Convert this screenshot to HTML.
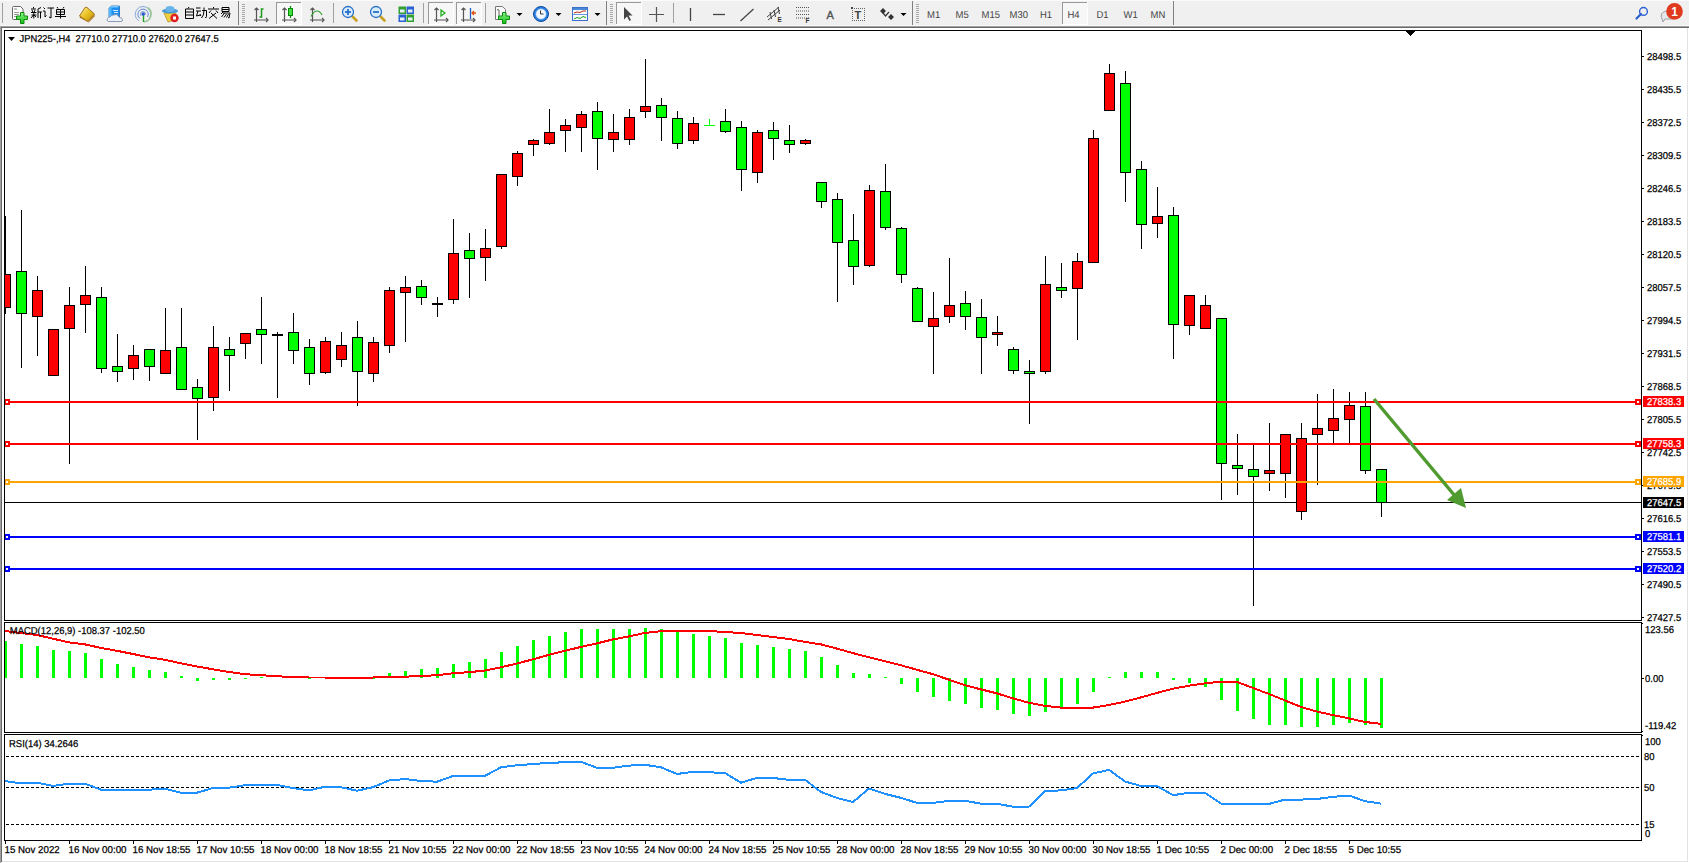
<!DOCTYPE html>
<html><head><meta charset="utf-8"><style>
html,body{margin:0;padding:0;background:#fff;width:1689px;height:863px;overflow:hidden}
svg{display:block}
</style></head><body>
<svg width="1689" height="863" viewBox="0 0 1689 863" shape-rendering="crispEdges">
<rect x="0" y="0" width="1689" height="863" fill="#ffffff"/>
<rect x="0" y="0" width="1689" height="26" fill="#f0f0f0"/>
<rect x="0" y="26" width="1689" height="1" fill="#a0a0a0"/>
<rect x="0" y="27" width="1689" height="1" fill="#696969"/>
<rect x="0" y="26" width="1" height="837" fill="#a0a0a0"/>
<rect x="1" y="27" width="1" height="835" fill="#696969"/>
<rect x="1687" y="28" width="1" height="834" fill="#e3e3e3"/>
<rect x="2" y="861" width="1686" height="1" fill="#e3e3e3"/>
<defs><clipPath id="cm"><rect x="5" y="31" width="1636" height="589"/></clipPath><clipPath id="cd"><rect x="5" y="623" width="1636" height="109"/></clipPath><clipPath id="cr"><rect x="5" y="735" width="1636" height="105"/></clipPath></defs>
<g clip-path="url(#cm)">
<rect x="5" y="502" width="1636" height="1" fill="#000"/>
<rect x="5" y="216" width="1" height="98" fill="#000"/>
<rect x="0" y="274" width="11" height="34" fill="#000"/>
<rect x="1" y="275" width="9" height="32" fill="#ff0000"/>
<rect x="21" y="210" width="1" height="158" fill="#000"/>
<rect x="16" y="271" width="11" height="43" fill="#000"/>
<rect x="17" y="272" width="9" height="41" fill="#00ff00"/>
<rect x="37" y="276" width="1" height="80" fill="#000"/>
<rect x="32" y="290" width="11" height="27" fill="#000"/>
<rect x="33" y="291" width="9" height="25" fill="#ff0000"/>
<rect x="53" y="329" width="1" height="47" fill="#000"/>
<rect x="48" y="329" width="11" height="47" fill="#000"/>
<rect x="49" y="330" width="9" height="45" fill="#ff0000"/>
<rect x="69" y="287" width="1" height="177" fill="#000"/>
<rect x="64" y="305" width="11" height="24" fill="#000"/>
<rect x="65" y="306" width="9" height="22" fill="#ff0000"/>
<rect x="85" y="266" width="1" height="67" fill="#000"/>
<rect x="80" y="295" width="11" height="10" fill="#000"/>
<rect x="81" y="296" width="9" height="8" fill="#ff0000"/>
<rect x="101" y="287" width="1" height="86" fill="#000"/>
<rect x="96" y="297" width="11" height="72" fill="#000"/>
<rect x="97" y="298" width="9" height="70" fill="#00ff00"/>
<rect x="117" y="334" width="1" height="48" fill="#000"/>
<rect x="112" y="366" width="11" height="6" fill="#000"/>
<rect x="113" y="367" width="9" height="4" fill="#00ff00"/>
<rect x="133" y="345" width="1" height="35" fill="#000"/>
<rect x="128" y="355" width="11" height="14" fill="#000"/>
<rect x="129" y="356" width="9" height="12" fill="#ff0000"/>
<rect x="149" y="349" width="1" height="32" fill="#000"/>
<rect x="144" y="349" width="11" height="18" fill="#000"/>
<rect x="145" y="350" width="9" height="16" fill="#00ff00"/>
<rect x="165" y="308" width="1" height="66" fill="#000"/>
<rect x="160" y="350" width="11" height="24" fill="#000"/>
<rect x="161" y="351" width="9" height="22" fill="#ff0000"/>
<rect x="181" y="308" width="1" height="82" fill="#000"/>
<rect x="176" y="347" width="11" height="43" fill="#000"/>
<rect x="177" y="348" width="9" height="41" fill="#00ff00"/>
<rect x="197" y="379" width="1" height="61" fill="#000"/>
<rect x="192" y="387" width="11" height="12" fill="#000"/>
<rect x="193" y="388" width="9" height="10" fill="#00ff00"/>
<rect x="213" y="326" width="1" height="85" fill="#000"/>
<rect x="208" y="347" width="11" height="51" fill="#000"/>
<rect x="209" y="348" width="9" height="49" fill="#ff0000"/>
<rect x="229" y="337" width="1" height="54" fill="#000"/>
<rect x="224" y="349" width="11" height="7" fill="#000"/>
<rect x="225" y="350" width="9" height="5" fill="#00ff00"/>
<rect x="245" y="333" width="1" height="26" fill="#000"/>
<rect x="240" y="333" width="11" height="11" fill="#000"/>
<rect x="241" y="334" width="9" height="9" fill="#ff0000"/>
<rect x="261" y="297" width="1" height="67" fill="#000"/>
<rect x="256" y="329" width="11" height="6" fill="#000"/>
<rect x="257" y="330" width="9" height="4" fill="#00ff00"/>
<rect x="277" y="332" width="1" height="66" fill="#000"/>
<rect x="272" y="334" width="11" height="2" fill="#000"/>
<rect x="293" y="313" width="1" height="51" fill="#000"/>
<rect x="288" y="332" width="11" height="19" fill="#000"/>
<rect x="289" y="333" width="9" height="17" fill="#00ff00"/>
<rect x="309" y="339" width="1" height="46" fill="#000"/>
<rect x="304" y="347" width="11" height="27" fill="#000"/>
<rect x="305" y="348" width="9" height="25" fill="#00ff00"/>
<rect x="325" y="337" width="1" height="37" fill="#000"/>
<rect x="320" y="341" width="11" height="32" fill="#000"/>
<rect x="321" y="342" width="9" height="30" fill="#ff0000"/>
<rect x="341" y="332" width="1" height="35" fill="#000"/>
<rect x="336" y="345" width="11" height="15" fill="#000"/>
<rect x="337" y="346" width="9" height="13" fill="#ff0000"/>
<rect x="357" y="321" width="1" height="85" fill="#000"/>
<rect x="352" y="337" width="11" height="35" fill="#000"/>
<rect x="353" y="338" width="9" height="33" fill="#00ff00"/>
<rect x="373" y="337" width="1" height="45" fill="#000"/>
<rect x="368" y="342" width="11" height="32" fill="#000"/>
<rect x="369" y="343" width="9" height="30" fill="#ff0000"/>
<rect x="389" y="287" width="1" height="66" fill="#000"/>
<rect x="384" y="290" width="11" height="56" fill="#000"/>
<rect x="385" y="291" width="9" height="54" fill="#ff0000"/>
<rect x="405" y="276" width="1" height="66" fill="#000"/>
<rect x="400" y="287" width="11" height="6" fill="#000"/>
<rect x="401" y="288" width="9" height="4" fill="#ff0000"/>
<rect x="421" y="280" width="1" height="25" fill="#000"/>
<rect x="416" y="286" width="11" height="12" fill="#000"/>
<rect x="417" y="287" width="9" height="10" fill="#00ff00"/>
<rect x="437" y="297" width="1" height="20" fill="#000"/>
<rect x="432" y="303" width="11" height="2" fill="#000"/>
<rect x="453" y="219" width="1" height="85" fill="#000"/>
<rect x="448" y="253" width="11" height="47" fill="#000"/>
<rect x="449" y="254" width="9" height="45" fill="#ff0000"/>
<rect x="469" y="233" width="1" height="65" fill="#000"/>
<rect x="464" y="250" width="11" height="9" fill="#000"/>
<rect x="465" y="251" width="9" height="7" fill="#00ff00"/>
<rect x="485" y="229" width="1" height="52" fill="#000"/>
<rect x="480" y="248" width="11" height="10" fill="#000"/>
<rect x="481" y="249" width="9" height="8" fill="#ff0000"/>
<rect x="501" y="174" width="1" height="75" fill="#000"/>
<rect x="496" y="174" width="11" height="73" fill="#000"/>
<rect x="497" y="175" width="9" height="71" fill="#ff0000"/>
<rect x="517" y="151" width="1" height="35" fill="#000"/>
<rect x="512" y="153" width="11" height="24" fill="#000"/>
<rect x="513" y="154" width="9" height="22" fill="#ff0000"/>
<rect x="533" y="139" width="1" height="17" fill="#000"/>
<rect x="528" y="140" width="11" height="5" fill="#000"/>
<rect x="529" y="141" width="9" height="3" fill="#ff0000"/>
<rect x="549" y="109" width="1" height="36" fill="#000"/>
<rect x="544" y="132" width="11" height="12" fill="#000"/>
<rect x="545" y="133" width="9" height="10" fill="#ff0000"/>
<rect x="565" y="119" width="1" height="33" fill="#000"/>
<rect x="560" y="125" width="11" height="6" fill="#000"/>
<rect x="561" y="126" width="9" height="4" fill="#ff0000"/>
<rect x="581" y="111" width="1" height="41" fill="#000"/>
<rect x="576" y="114" width="11" height="14" fill="#000"/>
<rect x="577" y="115" width="9" height="12" fill="#ff0000"/>
<rect x="597" y="102" width="1" height="68" fill="#000"/>
<rect x="592" y="111" width="11" height="28" fill="#000"/>
<rect x="593" y="112" width="9" height="26" fill="#00ff00"/>
<rect x="613" y="114" width="1" height="38" fill="#000"/>
<rect x="608" y="132" width="11" height="8" fill="#000"/>
<rect x="609" y="133" width="9" height="6" fill="#ff0000"/>
<rect x="629" y="109" width="1" height="36" fill="#000"/>
<rect x="624" y="117" width="11" height="23" fill="#000"/>
<rect x="625" y="118" width="9" height="21" fill="#ff0000"/>
<rect x="645" y="59" width="1" height="59" fill="#000"/>
<rect x="640" y="106" width="11" height="6" fill="#000"/>
<rect x="641" y="107" width="9" height="4" fill="#ff0000"/>
<rect x="661" y="98" width="1" height="43" fill="#000"/>
<rect x="656" y="105" width="11" height="13" fill="#000"/>
<rect x="657" y="106" width="9" height="11" fill="#00ff00"/>
<rect x="677" y="111" width="1" height="38" fill="#000"/>
<rect x="672" y="118" width="11" height="26" fill="#000"/>
<rect x="673" y="119" width="9" height="24" fill="#00ff00"/>
<rect x="693" y="117" width="1" height="27" fill="#000"/>
<rect x="688" y="123" width="11" height="18" fill="#000"/>
<rect x="689" y="124" width="9" height="16" fill="#ff0000"/>
<rect x="709" y="119" width="1" height="7" fill="#000"/>
<rect x="704" y="125" width="11" height="1" fill="#00ff00"/>
<rect x="709" y="119" width="1" height="7" fill="#00ff00"/>
<rect x="725" y="109" width="1" height="24" fill="#000"/>
<rect x="720" y="121" width="11" height="11" fill="#000"/>
<rect x="721" y="122" width="9" height="9" fill="#00ff00"/>
<rect x="741" y="121" width="1" height="70" fill="#000"/>
<rect x="736" y="127" width="11" height="43" fill="#000"/>
<rect x="737" y="128" width="9" height="41" fill="#00ff00"/>
<rect x="757" y="130" width="1" height="53" fill="#000"/>
<rect x="752" y="132" width="11" height="41" fill="#000"/>
<rect x="753" y="133" width="9" height="39" fill="#ff0000"/>
<rect x="773" y="122" width="1" height="38" fill="#000"/>
<rect x="768" y="130" width="11" height="9" fill="#000"/>
<rect x="769" y="131" width="9" height="7" fill="#00ff00"/>
<rect x="789" y="125" width="1" height="28" fill="#000"/>
<rect x="784" y="140" width="11" height="5" fill="#000"/>
<rect x="785" y="141" width="9" height="3" fill="#00ff00"/>
<rect x="805" y="139" width="1" height="6" fill="#000"/>
<rect x="800" y="140" width="11" height="4" fill="#000"/>
<rect x="801" y="141" width="9" height="2" fill="#ff0000"/>
<rect x="821" y="182" width="1" height="26" fill="#000"/>
<rect x="816" y="182" width="11" height="20" fill="#000"/>
<rect x="817" y="183" width="9" height="18" fill="#00ff00"/>
<rect x="837" y="193" width="1" height="109" fill="#000"/>
<rect x="832" y="199" width="11" height="44" fill="#000"/>
<rect x="833" y="200" width="9" height="42" fill="#00ff00"/>
<rect x="853" y="214" width="1" height="71" fill="#000"/>
<rect x="848" y="240" width="11" height="27" fill="#000"/>
<rect x="849" y="241" width="9" height="25" fill="#00ff00"/>
<rect x="869" y="185" width="1" height="82" fill="#000"/>
<rect x="864" y="190" width="11" height="76" fill="#000"/>
<rect x="865" y="191" width="9" height="74" fill="#ff0000"/>
<rect x="885" y="164" width="1" height="66" fill="#000"/>
<rect x="880" y="191" width="11" height="37" fill="#000"/>
<rect x="881" y="192" width="9" height="35" fill="#00ff00"/>
<rect x="901" y="227" width="1" height="56" fill="#000"/>
<rect x="896" y="228" width="11" height="47" fill="#000"/>
<rect x="897" y="229" width="9" height="45" fill="#00ff00"/>
<rect x="917" y="287" width="1" height="35" fill="#000"/>
<rect x="912" y="288" width="11" height="34" fill="#000"/>
<rect x="913" y="289" width="9" height="32" fill="#00ff00"/>
<rect x="933" y="292" width="1" height="82" fill="#000"/>
<rect x="928" y="318" width="11" height="9" fill="#000"/>
<rect x="929" y="319" width="9" height="7" fill="#ff0000"/>
<rect x="949" y="258" width="1" height="65" fill="#000"/>
<rect x="944" y="305" width="11" height="12" fill="#000"/>
<rect x="945" y="306" width="9" height="10" fill="#ff0000"/>
<rect x="965" y="291" width="1" height="39" fill="#000"/>
<rect x="960" y="303" width="11" height="14" fill="#000"/>
<rect x="961" y="304" width="9" height="12" fill="#00ff00"/>
<rect x="981" y="299" width="1" height="75" fill="#000"/>
<rect x="976" y="317" width="11" height="21" fill="#000"/>
<rect x="977" y="318" width="9" height="19" fill="#00ff00"/>
<rect x="997" y="316" width="1" height="30" fill="#000"/>
<rect x="992" y="332" width="11" height="3" fill="#000"/>
<rect x="993" y="333" width="9" height="1" fill="#ff0000"/>
<rect x="1013" y="347" width="1" height="27" fill="#000"/>
<rect x="1008" y="349" width="11" height="22" fill="#000"/>
<rect x="1009" y="350" width="9" height="20" fill="#00ff00"/>
<rect x="1029" y="360" width="1" height="64" fill="#000"/>
<rect x="1024" y="371" width="11" height="3" fill="#000"/>
<rect x="1025" y="372" width="9" height="1" fill="#00ff00"/>
<rect x="1045" y="256" width="1" height="118" fill="#000"/>
<rect x="1040" y="284" width="11" height="88" fill="#000"/>
<rect x="1041" y="285" width="9" height="86" fill="#ff0000"/>
<rect x="1061" y="263" width="1" height="35" fill="#000"/>
<rect x="1056" y="287" width="11" height="4" fill="#000"/>
<rect x="1057" y="288" width="9" height="2" fill="#00ff00"/>
<rect x="1077" y="253" width="1" height="87" fill="#000"/>
<rect x="1072" y="261" width="11" height="28" fill="#000"/>
<rect x="1073" y="262" width="9" height="26" fill="#ff0000"/>
<rect x="1093" y="130" width="1" height="133" fill="#000"/>
<rect x="1088" y="138" width="11" height="125" fill="#000"/>
<rect x="1089" y="139" width="9" height="123" fill="#ff0000"/>
<rect x="1109" y="64" width="1" height="47" fill="#000"/>
<rect x="1104" y="73" width="11" height="38" fill="#000"/>
<rect x="1105" y="74" width="9" height="36" fill="#ff0000"/>
<rect x="1125" y="71" width="1" height="131" fill="#000"/>
<rect x="1120" y="83" width="11" height="90" fill="#000"/>
<rect x="1121" y="84" width="9" height="88" fill="#00ff00"/>
<rect x="1141" y="161" width="1" height="88" fill="#000"/>
<rect x="1136" y="169" width="11" height="56" fill="#000"/>
<rect x="1137" y="170" width="9" height="54" fill="#00ff00"/>
<rect x="1157" y="187" width="1" height="51" fill="#000"/>
<rect x="1152" y="216" width="11" height="8" fill="#000"/>
<rect x="1153" y="217" width="9" height="6" fill="#ff0000"/>
<rect x="1173" y="207" width="1" height="152" fill="#000"/>
<rect x="1168" y="215" width="11" height="110" fill="#000"/>
<rect x="1169" y="216" width="9" height="108" fill="#00ff00"/>
<rect x="1189" y="295" width="1" height="40" fill="#000"/>
<rect x="1184" y="295" width="11" height="31" fill="#000"/>
<rect x="1185" y="296" width="9" height="29" fill="#ff0000"/>
<rect x="1205" y="295" width="1" height="34" fill="#000"/>
<rect x="1200" y="305" width="11" height="24" fill="#000"/>
<rect x="1201" y="306" width="9" height="22" fill="#ff0000"/>
<rect x="1221" y="318" width="1" height="182" fill="#000"/>
<rect x="1216" y="318" width="11" height="146" fill="#000"/>
<rect x="1217" y="319" width="9" height="144" fill="#00ff00"/>
<rect x="1237" y="434" width="1" height="61" fill="#000"/>
<rect x="1232" y="465" width="11" height="4" fill="#000"/>
<rect x="1233" y="466" width="9" height="2" fill="#00ff00"/>
<rect x="1253" y="445" width="1" height="161" fill="#000"/>
<rect x="1248" y="469" width="11" height="8" fill="#000"/>
<rect x="1249" y="470" width="9" height="6" fill="#00ff00"/>
<rect x="1269" y="423" width="1" height="68" fill="#000"/>
<rect x="1264" y="470" width="11" height="4" fill="#000"/>
<rect x="1265" y="471" width="9" height="2" fill="#ff0000"/>
<rect x="1285" y="434" width="1" height="64" fill="#000"/>
<rect x="1280" y="434" width="11" height="40" fill="#000"/>
<rect x="1281" y="435" width="9" height="38" fill="#ff0000"/>
<rect x="1301" y="423" width="1" height="97" fill="#000"/>
<rect x="1296" y="438" width="11" height="74" fill="#000"/>
<rect x="1297" y="439" width="9" height="72" fill="#ff0000"/>
<rect x="1317" y="394" width="1" height="91" fill="#000"/>
<rect x="1312" y="428" width="11" height="7" fill="#000"/>
<rect x="1313" y="429" width="9" height="5" fill="#ff0000"/>
<rect x="1333" y="389" width="1" height="55" fill="#000"/>
<rect x="1328" y="418" width="11" height="13" fill="#000"/>
<rect x="1329" y="419" width="9" height="11" fill="#ff0000"/>
<rect x="1349" y="392" width="1" height="52" fill="#000"/>
<rect x="1344" y="405" width="11" height="15" fill="#000"/>
<rect x="1345" y="406" width="9" height="13" fill="#ff0000"/>
<rect x="1365" y="392" width="1" height="82" fill="#000"/>
<rect x="1360" y="406" width="11" height="65" fill="#000"/>
<rect x="1361" y="407" width="9" height="63" fill="#00ff00"/>
<rect x="1381" y="469" width="1" height="48" fill="#000"/>
<rect x="1376" y="469" width="11" height="34" fill="#000"/>
<rect x="1377" y="470" width="9" height="32" fill="#00ff00"/>
<rect x="5" y="401" width="1636" height="2" fill="#ff0000"/>
<rect x="4" y="399" width="6" height="6" fill="#ff0000"/>
<rect x="6" y="401" width="2" height="2" fill="#fff"/>
<rect x="1635" y="399" width="6" height="6" fill="#ff0000"/>
<rect x="1637" y="401" width="2" height="2" fill="#fff"/>
<rect x="5" y="443" width="1636" height="2" fill="#ff0000"/>
<rect x="4" y="441" width="6" height="6" fill="#ff0000"/>
<rect x="6" y="443" width="2" height="2" fill="#fff"/>
<rect x="1635" y="441" width="6" height="6" fill="#ff0000"/>
<rect x="1637" y="443" width="2" height="2" fill="#fff"/>
<rect x="5" y="481" width="1636" height="2" fill="#ffa500"/>
<rect x="4" y="479" width="6" height="6" fill="#ffa500"/>
<rect x="6" y="481" width="2" height="2" fill="#fff"/>
<rect x="1635" y="479" width="6" height="6" fill="#ffa500"/>
<rect x="1637" y="481" width="2" height="2" fill="#fff"/>
<rect x="5" y="536" width="1636" height="2" fill="#0000ff"/>
<rect x="4" y="534" width="6" height="6" fill="#0000ff"/>
<rect x="6" y="536" width="2" height="2" fill="#fff"/>
<rect x="1635" y="534" width="6" height="6" fill="#0000ff"/>
<rect x="1637" y="536" width="2" height="2" fill="#fff"/>
<rect x="5" y="568" width="1636" height="2" fill="#0000ff"/>
<rect x="4" y="566" width="6" height="6" fill="#0000ff"/>
<rect x="6" y="568" width="2" height="2" fill="#fff"/>
<rect x="1635" y="566" width="6" height="6" fill="#0000ff"/>
<rect x="1637" y="568" width="2" height="2" fill="#fff"/>
<g shape-rendering="geometricPrecision"><line x1="1374" y1="399" x2="1455" y2="496" stroke="#4f9b2f" stroke-width="3.5"/><polygon points="1466,508 1447,500 1461,488" fill="#4f9b2f"/></g>
</g>
<g fill="#000"><rect x="1406" y="31" width="9" height="1"/><rect x="1407" y="32" width="7" height="1"/><rect x="1408" y="33" width="5" height="1"/><rect x="1409" y="34" width="3" height="1"/><rect x="1410" y="35" width="1" height="1"/></g>
<g clip-path="url(#cd)">
<rect x="4" y="641" width="3" height="37" fill="#00ff00"/>
<rect x="20" y="644" width="3" height="34" fill="#00ff00"/>
<rect x="36" y="646" width="3" height="32" fill="#00ff00"/>
<rect x="52" y="650" width="3" height="28" fill="#00ff00"/>
<rect x="68" y="651" width="3" height="27" fill="#00ff00"/>
<rect x="84" y="653" width="3" height="25" fill="#00ff00"/>
<rect x="100" y="659" width="3" height="19" fill="#00ff00"/>
<rect x="116" y="664" width="3" height="14" fill="#00ff00"/>
<rect x="132" y="667" width="3" height="11" fill="#00ff00"/>
<rect x="148" y="670" width="3" height="8" fill="#00ff00"/>
<rect x="164" y="672" width="3" height="6" fill="#00ff00"/>
<rect x="180" y="676" width="3" height="2" fill="#00ff00"/>
<rect x="196" y="678" width="3" height="3" fill="#00ff00"/>
<rect x="212" y="678" width="3" height="2" fill="#00ff00"/>
<rect x="228" y="678" width="3" height="2" fill="#00ff00"/>
<rect x="244" y="678" width="3" height="1" fill="#00ff00"/>
<rect x="260" y="677" width="3" height="1" fill="#00ff00"/>
<rect x="308" y="678" width="3" height="1" fill="#00ff00"/>
<rect x="356" y="678" width="3" height="1" fill="#00ff00"/>
<rect x="372" y="678" width="3" height="1" fill="#00ff00"/>
<rect x="388" y="673" width="3" height="5" fill="#00ff00"/>
<rect x="404" y="671" width="3" height="7" fill="#00ff00"/>
<rect x="420" y="669" width="3" height="9" fill="#00ff00"/>
<rect x="436" y="668" width="3" height="10" fill="#00ff00"/>
<rect x="452" y="664" width="3" height="14" fill="#00ff00"/>
<rect x="468" y="662" width="3" height="16" fill="#00ff00"/>
<rect x="484" y="659" width="3" height="19" fill="#00ff00"/>
<rect x="500" y="652" width="3" height="26" fill="#00ff00"/>
<rect x="516" y="646" width="3" height="32" fill="#00ff00"/>
<rect x="532" y="640" width="3" height="38" fill="#00ff00"/>
<rect x="548" y="636" width="3" height="42" fill="#00ff00"/>
<rect x="564" y="632" width="3" height="46" fill="#00ff00"/>
<rect x="580" y="629" width="3" height="49" fill="#00ff00"/>
<rect x="596" y="629" width="3" height="49" fill="#00ff00"/>
<rect x="612" y="629" width="3" height="49" fill="#00ff00"/>
<rect x="628" y="629" width="3" height="49" fill="#00ff00"/>
<rect x="644" y="628" width="3" height="50" fill="#00ff00"/>
<rect x="660" y="629" width="3" height="49" fill="#00ff00"/>
<rect x="676" y="631" width="3" height="47" fill="#00ff00"/>
<rect x="692" y="634" width="3" height="44" fill="#00ff00"/>
<rect x="708" y="636" width="3" height="42" fill="#00ff00"/>
<rect x="724" y="638" width="3" height="40" fill="#00ff00"/>
<rect x="740" y="643" width="3" height="35" fill="#00ff00"/>
<rect x="756" y="645" width="3" height="33" fill="#00ff00"/>
<rect x="772" y="647" width="3" height="31" fill="#00ff00"/>
<rect x="788" y="649" width="3" height="29" fill="#00ff00"/>
<rect x="804" y="651" width="3" height="27" fill="#00ff00"/>
<rect x="820" y="657" width="3" height="21" fill="#00ff00"/>
<rect x="836" y="665" width="3" height="13" fill="#00ff00"/>
<rect x="852" y="673" width="3" height="5" fill="#00ff00"/>
<rect x="868" y="674" width="3" height="4" fill="#00ff00"/>
<rect x="884" y="677" width="3" height="1" fill="#00ff00"/>
<rect x="900" y="678" width="3" height="6" fill="#00ff00"/>
<rect x="916" y="678" width="3" height="14" fill="#00ff00"/>
<rect x="932" y="678" width="3" height="19" fill="#00ff00"/>
<rect x="948" y="678" width="3" height="23" fill="#00ff00"/>
<rect x="964" y="678" width="3" height="26" fill="#00ff00"/>
<rect x="980" y="678" width="3" height="30" fill="#00ff00"/>
<rect x="996" y="678" width="3" height="32" fill="#00ff00"/>
<rect x="1012" y="678" width="3" height="36" fill="#00ff00"/>
<rect x="1028" y="678" width="3" height="38" fill="#00ff00"/>
<rect x="1044" y="678" width="3" height="34" fill="#00ff00"/>
<rect x="1060" y="678" width="3" height="30" fill="#00ff00"/>
<rect x="1076" y="678" width="3" height="26" fill="#00ff00"/>
<rect x="1092" y="678" width="3" height="14" fill="#00ff00"/>
<rect x="1108" y="677" width="3" height="1" fill="#00ff00"/>
<rect x="1124" y="672" width="3" height="6" fill="#00ff00"/>
<rect x="1140" y="672" width="3" height="6" fill="#00ff00"/>
<rect x="1156" y="672" width="3" height="6" fill="#00ff00"/>
<rect x="1172" y="678" width="3" height="2" fill="#00ff00"/>
<rect x="1188" y="678" width="3" height="5" fill="#00ff00"/>
<rect x="1204" y="678" width="3" height="9" fill="#00ff00"/>
<rect x="1220" y="678" width="3" height="22" fill="#00ff00"/>
<rect x="1236" y="678" width="3" height="33" fill="#00ff00"/>
<rect x="1252" y="678" width="3" height="41" fill="#00ff00"/>
<rect x="1268" y="678" width="3" height="47" fill="#00ff00"/>
<rect x="1284" y="678" width="3" height="47" fill="#00ff00"/>
<rect x="1300" y="678" width="3" height="49" fill="#00ff00"/>
<rect x="1316" y="678" width="3" height="49" fill="#00ff00"/>
<rect x="1332" y="678" width="3" height="47" fill="#00ff00"/>
<rect x="1348" y="678" width="3" height="45" fill="#00ff00"/>
<rect x="1364" y="678" width="3" height="47" fill="#00ff00"/>
<rect x="1380" y="678" width="3" height="50" fill="#00ff00"/>
<polyline points="5,631 21,633 37,635 53,638.7 69,642.4 85,644.4 101,647.9 117,650.8 133,654 149,657.3 165,659.8 181,663.3 197,666.5 213,669.3 229,672 245,674.2 261,675.2 277,676.2 293,677.2 309,677.5 325,677.5 341,677.5 357,677.5 373,677.5 389,677 405,676.7 421,676 437,675.2 453,673.2 469,672.2 485,670.5 501,667.3 517,663.5 533,659.3 549,654.8 565,650.8 581,646.9 597,643.4 613,639.4 629,636.4 645,632.9 661,631.2 677,631 693,631 709,631 725,632 741,633 757,635 773,637 789,639 805,641.9 821,644.4 837,648.6 853,653.1 869,657.3 885,661.3 901,665.3 917,669.8 933,674.2 949,679.7 965,685.2 981,689.4 997,693.4 1013,698.4 1029,702.8 1045,705.8 1061,707.6 1077,707.6 1093,707.6 1109,705 1125,701.6 1141,697.4 1157,692.9 1173,688.7 1189,685.7 1205,683.4 1221,681.7 1237,682 1253,688 1269,694 1285,700.4 1301,707 1317,711.6 1333,715.1 1349,718.4 1365,722 1381,723.8" fill="none" stroke="#ff0000" stroke-width="2" shape-rendering="crispEdges"/>
</g>
<g clip-path="url(#cr)">
<line x1="6" y1="756.5" x2="1641" y2="756.5" stroke="#000" stroke-width="1" stroke-dasharray="3,2"/>
<line x1="6" y1="787.5" x2="1641" y2="787.5" stroke="#000" stroke-width="1" stroke-dasharray="3,2"/>
<line x1="6" y1="824.5" x2="1641" y2="824.5" stroke="#000" stroke-width="1" stroke-dasharray="3,2"/>
<polyline points="5,781 21,783.5 37,782.7 53,786 69,783.7 85,783.7 101,789.7 117,789.7 133,789.7 149,789.7 165,788.7 181,792.7 197,792.7 213,788 229,787.7 245,785.2 261,784.7 277,785 293,788 309,790.4 325,786.7 341,787.2 357,790.7 373,787.2 389,780.5 405,779 421,781 437,781.7 453,776 469,775.8 485,775.8 501,767.3 517,765.3 533,764 549,762.8 565,762.3 581,761.8 597,767.8 613,767.8 629,765.6 645,764.8 661,767.3 677,774 693,771.8 709,772.3 725,773 741,782.7 757,777.8 773,778 789,779.8 805,779.8 821,792 837,797.9 853,802.1 869,788.5 885,793.9 901,797.9 917,802.9 933,802.9 949,800.9 965,800.9 981,803.6 997,803.9 1013,806.6 1029,806.6 1045,791 1061,790.4 1077,788 1093,773.5 1109,769.8 1125,781.5 1141,786 1157,786 1173,795.2 1189,792.7 1205,792.7 1221,803.6 1237,804 1253,804.2 1269,803.9 1285,799.6 1301,799.6 1317,799 1333,796.8 1349,795.5 1365,801.2 1381,803.6" fill="none" stroke="#1e90ff" stroke-width="2" shape-rendering="crispEdges"/>
</g>
<rect x="4.5" y="30.5" width="1637" height="590" fill="none" stroke="#000" stroke-width="1"/>
<rect x="4.5" y="622.5" width="1637" height="110" fill="none" stroke="#000" stroke-width="1"/>
<rect x="4.5" y="734.5" width="1637" height="106" fill="none" stroke="#000" stroke-width="1"/>
<polygon points="8,37 15,37 11.5,41" fill="#000" shape-rendering="geometricPrecision"/>
<text transform="translate(19.5,42) scale(0.935,1)" x="0" y="0" font-family="Liberation Sans, sans-serif" text-rendering="geometricPrecision" font-size="10" fill="#000" stroke="#000" stroke-width="0.25" text-anchor="start" xml:space="preserve" >JPN225-,H4  27710.0 27710.0 27620.0 27647.5</text>
<text transform="translate(9.8,634) scale(0.945,1)" x="0" y="0" font-family="Liberation Sans, sans-serif" text-rendering="geometricPrecision" font-size="10" fill="#000" stroke="#000" stroke-width="0.25" text-anchor="start" xml:space="preserve" >MACD(12,26,9) -108.37 -102.50</text>
<text transform="translate(9,746.5) scale(0.945,1)" x="0" y="0" font-family="Liberation Sans, sans-serif" text-rendering="geometricPrecision" font-size="10" fill="#000" stroke="#000" stroke-width="0.25" text-anchor="start" xml:space="preserve" >RSI(14) 34.2646</text>
<rect x="1642" y="56" width="2" height="1" fill="#000"/>
<text transform="translate(1647,60) scale(0.945,1)" x="0" y="0" font-family="Liberation Sans, sans-serif" text-rendering="geometricPrecision" font-size="10" fill="#000" stroke="#000" stroke-width="0.25" text-anchor="start" xml:space="preserve" >28498.5</text>
<rect x="1642" y="89" width="2" height="1" fill="#000"/>
<text transform="translate(1647,93) scale(0.945,1)" x="0" y="0" font-family="Liberation Sans, sans-serif" text-rendering="geometricPrecision" font-size="10" fill="#000" stroke="#000" stroke-width="0.25" text-anchor="start" xml:space="preserve" >28435.5</text>
<rect x="1642" y="122" width="2" height="1" fill="#000"/>
<text transform="translate(1647,126) scale(0.945,1)" x="0" y="0" font-family="Liberation Sans, sans-serif" text-rendering="geometricPrecision" font-size="10" fill="#000" stroke="#000" stroke-width="0.25" text-anchor="start" xml:space="preserve" >28372.5</text>
<rect x="1642" y="155" width="2" height="1" fill="#000"/>
<text transform="translate(1647,159) scale(0.945,1)" x="0" y="0" font-family="Liberation Sans, sans-serif" text-rendering="geometricPrecision" font-size="10" fill="#000" stroke="#000" stroke-width="0.25" text-anchor="start" xml:space="preserve" >28309.5</text>
<rect x="1642" y="188" width="2" height="1" fill="#000"/>
<text transform="translate(1647,192) scale(0.945,1)" x="0" y="0" font-family="Liberation Sans, sans-serif" text-rendering="geometricPrecision" font-size="10" fill="#000" stroke="#000" stroke-width="0.25" text-anchor="start" xml:space="preserve" >28246.5</text>
<rect x="1642" y="221" width="2" height="1" fill="#000"/>
<text transform="translate(1647,225) scale(0.945,1)" x="0" y="0" font-family="Liberation Sans, sans-serif" text-rendering="geometricPrecision" font-size="10" fill="#000" stroke="#000" stroke-width="0.25" text-anchor="start" xml:space="preserve" >28183.5</text>
<rect x="1642" y="254" width="2" height="1" fill="#000"/>
<text transform="translate(1647,258) scale(0.945,1)" x="0" y="0" font-family="Liberation Sans, sans-serif" text-rendering="geometricPrecision" font-size="10" fill="#000" stroke="#000" stroke-width="0.25" text-anchor="start" xml:space="preserve" >28120.5</text>
<rect x="1642" y="287" width="2" height="1" fill="#000"/>
<text transform="translate(1647,291) scale(0.945,1)" x="0" y="0" font-family="Liberation Sans, sans-serif" text-rendering="geometricPrecision" font-size="10" fill="#000" stroke="#000" stroke-width="0.25" text-anchor="start" xml:space="preserve" >28057.5</text>
<rect x="1642" y="320" width="2" height="1" fill="#000"/>
<text transform="translate(1647,324) scale(0.945,1)" x="0" y="0" font-family="Liberation Sans, sans-serif" text-rendering="geometricPrecision" font-size="10" fill="#000" stroke="#000" stroke-width="0.25" text-anchor="start" xml:space="preserve" >27994.5</text>
<rect x="1642" y="353" width="2" height="1" fill="#000"/>
<text transform="translate(1647,357) scale(0.945,1)" x="0" y="0" font-family="Liberation Sans, sans-serif" text-rendering="geometricPrecision" font-size="10" fill="#000" stroke="#000" stroke-width="0.25" text-anchor="start" xml:space="preserve" >27931.5</text>
<rect x="1642" y="386" width="2" height="1" fill="#000"/>
<text transform="translate(1647,390) scale(0.945,1)" x="0" y="0" font-family="Liberation Sans, sans-serif" text-rendering="geometricPrecision" font-size="10" fill="#000" stroke="#000" stroke-width="0.25" text-anchor="start" xml:space="preserve" >27868.5</text>
<rect x="1642" y="419" width="2" height="1" fill="#000"/>
<text transform="translate(1647,423) scale(0.945,1)" x="0" y="0" font-family="Liberation Sans, sans-serif" text-rendering="geometricPrecision" font-size="10" fill="#000" stroke="#000" stroke-width="0.25" text-anchor="start" xml:space="preserve" >27805.5</text>
<rect x="1642" y="452" width="2" height="1" fill="#000"/>
<text transform="translate(1647,456) scale(0.945,1)" x="0" y="0" font-family="Liberation Sans, sans-serif" text-rendering="geometricPrecision" font-size="10" fill="#000" stroke="#000" stroke-width="0.25" text-anchor="start" xml:space="preserve" >27742.5</text>
<rect x="1642" y="485" width="2" height="1" fill="#000"/>
<text transform="translate(1647,489) scale(0.945,1)" x="0" y="0" font-family="Liberation Sans, sans-serif" text-rendering="geometricPrecision" font-size="10" fill="#000" stroke="#000" stroke-width="0.25" text-anchor="start" xml:space="preserve" >27679.5</text>
<rect x="1642" y="518" width="2" height="1" fill="#000"/>
<text transform="translate(1647,522) scale(0.945,1)" x="0" y="0" font-family="Liberation Sans, sans-serif" text-rendering="geometricPrecision" font-size="10" fill="#000" stroke="#000" stroke-width="0.25" text-anchor="start" xml:space="preserve" >27616.5</text>
<rect x="1642" y="551" width="2" height="1" fill="#000"/>
<text transform="translate(1647,555) scale(0.945,1)" x="0" y="0" font-family="Liberation Sans, sans-serif" text-rendering="geometricPrecision" font-size="10" fill="#000" stroke="#000" stroke-width="0.25" text-anchor="start" xml:space="preserve" >27553.5</text>
<rect x="1642" y="584" width="2" height="1" fill="#000"/>
<text transform="translate(1647,588) scale(0.945,1)" x="0" y="0" font-family="Liberation Sans, sans-serif" text-rendering="geometricPrecision" font-size="10" fill="#000" stroke="#000" stroke-width="0.25" text-anchor="start" xml:space="preserve" >27490.5</text>
<rect x="1642" y="617" width="2" height="1" fill="#000"/>
<text transform="translate(1647,621) scale(0.945,1)" x="0" y="0" font-family="Liberation Sans, sans-serif" text-rendering="geometricPrecision" font-size="10" fill="#000" stroke="#000" stroke-width="0.25" text-anchor="start" xml:space="preserve" >27427.5</text>
<rect x="1643" y="396" width="41" height="11" fill="#ff0000"/>
<text transform="translate(1647,405) scale(0.945,1)" x="0" y="0" font-family="Liberation Sans, sans-serif" text-rendering="geometricPrecision" font-size="10" fill="#fff" stroke="#fff" stroke-width="0.25" text-anchor="start" xml:space="preserve" >27838.3</text>
<rect x="1643" y="438" width="41" height="11" fill="#ff0000"/>
<text transform="translate(1647,447) scale(0.945,1)" x="0" y="0" font-family="Liberation Sans, sans-serif" text-rendering="geometricPrecision" font-size="10" fill="#fff" stroke="#fff" stroke-width="0.25" text-anchor="start" xml:space="preserve" >27758.3</text>
<rect x="1643" y="476" width="41" height="11" fill="#ffa500"/>
<text transform="translate(1647,485) scale(0.945,1)" x="0" y="0" font-family="Liberation Sans, sans-serif" text-rendering="geometricPrecision" font-size="10" fill="#fff" stroke="#fff" stroke-width="0.25" text-anchor="start" xml:space="preserve" >27685.9</text>
<rect x="1643" y="497" width="41" height="11" fill="#000000"/>
<text transform="translate(1647,506) scale(0.945,1)" x="0" y="0" font-family="Liberation Sans, sans-serif" text-rendering="geometricPrecision" font-size="10" fill="#fff" stroke="#fff" stroke-width="0.25" text-anchor="start" xml:space="preserve" >27647.5</text>
<rect x="1643" y="531" width="41" height="11" fill="#0000ff"/>
<text transform="translate(1647,540) scale(0.945,1)" x="0" y="0" font-family="Liberation Sans, sans-serif" text-rendering="geometricPrecision" font-size="10" fill="#fff" stroke="#fff" stroke-width="0.25" text-anchor="start" xml:space="preserve" >27581.1</text>
<rect x="1643" y="563" width="41" height="11" fill="#0000ff"/>
<text transform="translate(1647,572) scale(0.945,1)" x="0" y="0" font-family="Liberation Sans, sans-serif" text-rendering="geometricPrecision" font-size="10" fill="#fff" stroke="#fff" stroke-width="0.25" text-anchor="start" xml:space="preserve" >27520.2</text>
<text transform="translate(1645,633) scale(0.945,1)" x="0" y="0" font-family="Liberation Sans, sans-serif" text-rendering="geometricPrecision" font-size="10" fill="#000" stroke="#000" stroke-width="0.25" text-anchor="start" xml:space="preserve" >123.56</text>
<rect x="1642" y="678" width="2" height="1" fill="#000"/>
<text transform="translate(1645,682) scale(0.945,1)" x="0" y="0" font-family="Liberation Sans, sans-serif" text-rendering="geometricPrecision" font-size="10" fill="#000" stroke="#000" stroke-width="0.25" text-anchor="start" xml:space="preserve" >0.00</text>
<text transform="translate(1645,729) scale(0.945,1)" x="0" y="0" font-family="Liberation Sans, sans-serif" text-rendering="geometricPrecision" font-size="10" fill="#000" stroke="#000" stroke-width="0.25" text-anchor="start" xml:space="preserve" >-119.42</text>
<rect x="1642" y="623" width="1" height="1" fill="#000"/>
<rect x="1642" y="731" width="1" height="1" fill="#000"/>
<rect x="1642" y="735" width="1" height="1" fill="#000"/>
<text transform="translate(1645,745) scale(0.945,1)" x="0" y="0" font-family="Liberation Sans, sans-serif" text-rendering="geometricPrecision" font-size="10" fill="#000" stroke="#000" stroke-width="0.25" text-anchor="start" xml:space="preserve" >100</text>
<text transform="translate(1644,760) scale(0.945,1)" x="0" y="0" font-family="Liberation Sans, sans-serif" text-rendering="geometricPrecision" font-size="10" fill="#000" stroke="#000" stroke-width="0.25" text-anchor="start" xml:space="preserve" >80</text>
<text transform="translate(1644,791) scale(0.945,1)" x="0" y="0" font-family="Liberation Sans, sans-serif" text-rendering="geometricPrecision" font-size="10" fill="#000" stroke="#000" stroke-width="0.25" text-anchor="start" xml:space="preserve" >50</text>
<text transform="translate(1644,828) scale(0.945,1)" x="0" y="0" font-family="Liberation Sans, sans-serif" text-rendering="geometricPrecision" font-size="10" fill="#000" stroke="#000" stroke-width="0.25" text-anchor="start" xml:space="preserve" >15</text>
<text transform="translate(1645,837) scale(0.945,1)" x="0" y="0" font-family="Liberation Sans, sans-serif" text-rendering="geometricPrecision" font-size="10" fill="#000" stroke="#000" stroke-width="0.25" text-anchor="start" xml:space="preserve" >0</text>
<rect x="5" y="841" width="1" height="3" fill="#000"/>
<text transform="translate(4.5,853) scale(0.975,1)" x="0" y="0" font-family="Liberation Sans, sans-serif" text-rendering="geometricPrecision" font-size="10" fill="#000" stroke="#000" stroke-width="0.25" text-anchor="start" xml:space="preserve" >15 Nov 2022</text>
<rect x="69" y="841" width="1" height="3" fill="#000"/>
<text transform="translate(68.5,853) scale(0.975,1)" x="0" y="0" font-family="Liberation Sans, sans-serif" text-rendering="geometricPrecision" font-size="10" fill="#000" stroke="#000" stroke-width="0.25" text-anchor="start" xml:space="preserve" >16 Nov 00:00</text>
<rect x="133" y="841" width="1" height="3" fill="#000"/>
<text transform="translate(132.5,853) scale(0.975,1)" x="0" y="0" font-family="Liberation Sans, sans-serif" text-rendering="geometricPrecision" font-size="10" fill="#000" stroke="#000" stroke-width="0.25" text-anchor="start" xml:space="preserve" >16 Nov 18:55</text>
<rect x="197" y="841" width="1" height="3" fill="#000"/>
<text transform="translate(196.5,853) scale(0.975,1)" x="0" y="0" font-family="Liberation Sans, sans-serif" text-rendering="geometricPrecision" font-size="10" fill="#000" stroke="#000" stroke-width="0.25" text-anchor="start" xml:space="preserve" >17 Nov 10:55</text>
<rect x="261" y="841" width="1" height="3" fill="#000"/>
<text transform="translate(260.5,853) scale(0.975,1)" x="0" y="0" font-family="Liberation Sans, sans-serif" text-rendering="geometricPrecision" font-size="10" fill="#000" stroke="#000" stroke-width="0.25" text-anchor="start" xml:space="preserve" >18 Nov 00:00</text>
<rect x="325" y="841" width="1" height="3" fill="#000"/>
<text transform="translate(324.5,853) scale(0.975,1)" x="0" y="0" font-family="Liberation Sans, sans-serif" text-rendering="geometricPrecision" font-size="10" fill="#000" stroke="#000" stroke-width="0.25" text-anchor="start" xml:space="preserve" >18 Nov 18:55</text>
<rect x="389" y="841" width="1" height="3" fill="#000"/>
<text transform="translate(388.5,853) scale(0.975,1)" x="0" y="0" font-family="Liberation Sans, sans-serif" text-rendering="geometricPrecision" font-size="10" fill="#000" stroke="#000" stroke-width="0.25" text-anchor="start" xml:space="preserve" >21 Nov 10:55</text>
<rect x="453" y="841" width="1" height="3" fill="#000"/>
<text transform="translate(452.5,853) scale(0.975,1)" x="0" y="0" font-family="Liberation Sans, sans-serif" text-rendering="geometricPrecision" font-size="10" fill="#000" stroke="#000" stroke-width="0.25" text-anchor="start" xml:space="preserve" >22 Nov 00:00</text>
<rect x="517" y="841" width="1" height="3" fill="#000"/>
<text transform="translate(516.5,853) scale(0.975,1)" x="0" y="0" font-family="Liberation Sans, sans-serif" text-rendering="geometricPrecision" font-size="10" fill="#000" stroke="#000" stroke-width="0.25" text-anchor="start" xml:space="preserve" >22 Nov 18:55</text>
<rect x="581" y="841" width="1" height="3" fill="#000"/>
<text transform="translate(580.5,853) scale(0.975,1)" x="0" y="0" font-family="Liberation Sans, sans-serif" text-rendering="geometricPrecision" font-size="10" fill="#000" stroke="#000" stroke-width="0.25" text-anchor="start" xml:space="preserve" >23 Nov 10:55</text>
<rect x="645" y="841" width="1" height="3" fill="#000"/>
<text transform="translate(644.5,853) scale(0.975,1)" x="0" y="0" font-family="Liberation Sans, sans-serif" text-rendering="geometricPrecision" font-size="10" fill="#000" stroke="#000" stroke-width="0.25" text-anchor="start" xml:space="preserve" >24 Nov 00:00</text>
<rect x="709" y="841" width="1" height="3" fill="#000"/>
<text transform="translate(708.5,853) scale(0.975,1)" x="0" y="0" font-family="Liberation Sans, sans-serif" text-rendering="geometricPrecision" font-size="10" fill="#000" stroke="#000" stroke-width="0.25" text-anchor="start" xml:space="preserve" >24 Nov 18:55</text>
<rect x="773" y="841" width="1" height="3" fill="#000"/>
<text transform="translate(772.5,853) scale(0.975,1)" x="0" y="0" font-family="Liberation Sans, sans-serif" text-rendering="geometricPrecision" font-size="10" fill="#000" stroke="#000" stroke-width="0.25" text-anchor="start" xml:space="preserve" >25 Nov 10:55</text>
<rect x="837" y="841" width="1" height="3" fill="#000"/>
<text transform="translate(836.5,853) scale(0.975,1)" x="0" y="0" font-family="Liberation Sans, sans-serif" text-rendering="geometricPrecision" font-size="10" fill="#000" stroke="#000" stroke-width="0.25" text-anchor="start" xml:space="preserve" >28 Nov 00:00</text>
<rect x="901" y="841" width="1" height="3" fill="#000"/>
<text transform="translate(900.5,853) scale(0.975,1)" x="0" y="0" font-family="Liberation Sans, sans-serif" text-rendering="geometricPrecision" font-size="10" fill="#000" stroke="#000" stroke-width="0.25" text-anchor="start" xml:space="preserve" >28 Nov 18:55</text>
<rect x="965" y="841" width="1" height="3" fill="#000"/>
<text transform="translate(964.5,853) scale(0.975,1)" x="0" y="0" font-family="Liberation Sans, sans-serif" text-rendering="geometricPrecision" font-size="10" fill="#000" stroke="#000" stroke-width="0.25" text-anchor="start" xml:space="preserve" >29 Nov 10:55</text>
<rect x="1029" y="841" width="1" height="3" fill="#000"/>
<text transform="translate(1028.5,853) scale(0.975,1)" x="0" y="0" font-family="Liberation Sans, sans-serif" text-rendering="geometricPrecision" font-size="10" fill="#000" stroke="#000" stroke-width="0.25" text-anchor="start" xml:space="preserve" >30 Nov 00:00</text>
<rect x="1093" y="841" width="1" height="3" fill="#000"/>
<text transform="translate(1092.5,853) scale(0.975,1)" x="0" y="0" font-family="Liberation Sans, sans-serif" text-rendering="geometricPrecision" font-size="10" fill="#000" stroke="#000" stroke-width="0.25" text-anchor="start" xml:space="preserve" >30 Nov 18:55</text>
<rect x="1157" y="841" width="1" height="3" fill="#000"/>
<text transform="translate(1156.5,853) scale(0.975,1)" x="0" y="0" font-family="Liberation Sans, sans-serif" text-rendering="geometricPrecision" font-size="10" fill="#000" stroke="#000" stroke-width="0.25" text-anchor="start" xml:space="preserve" >1 Dec 10:55</text>
<rect x="1221" y="841" width="1" height="3" fill="#000"/>
<text transform="translate(1220.5,853) scale(0.975,1)" x="0" y="0" font-family="Liberation Sans, sans-serif" text-rendering="geometricPrecision" font-size="10" fill="#000" stroke="#000" stroke-width="0.25" text-anchor="start" xml:space="preserve" >2 Dec 00:00</text>
<rect x="1285" y="841" width="1" height="3" fill="#000"/>
<text transform="translate(1284.5,853) scale(0.975,1)" x="0" y="0" font-family="Liberation Sans, sans-serif" text-rendering="geometricPrecision" font-size="10" fill="#000" stroke="#000" stroke-width="0.25" text-anchor="start" xml:space="preserve" >2 Dec 18:55</text>
<rect x="1349" y="841" width="1" height="3" fill="#000"/>
<text transform="translate(1348.5,853) scale(0.975,1)" x="0" y="0" font-family="Liberation Sans, sans-serif" text-rendering="geometricPrecision" font-size="10" fill="#000" stroke="#000" stroke-width="0.25" text-anchor="start" xml:space="preserve" >5 Dec 10:55</text>
<g shape-rendering="geometricPrecision">
<rect x="0" y="0" width="1689" height="1" fill="#fbfbfb"/>
<rect x="0" y="25" width="1689" height="1" fill="#f8f8f8"/>
<rect x="2" y="3" width="1" height="20" fill="#a0a0a0" shape-rendering="crispEdges"/>
<path d="M12.5,7.5 q0,-1 1,-1 h7 l2.5,2.5 v10.5 h-9.5 q-1,0 -1,-1 z" fill="#fff" stroke="#666" stroke-width="1"/>
<rect x="14" y="8.5" width="3" height="1" fill="#888"/><rect x="14" y="12" width="5" height="1" fill="#999"/><rect x="14" y="14" width="5" height="1" fill="#999"/><rect x="14" y="16" width="3" height="1" fill="#999"/>
<defs><linearGradient id="gp" x1="0" y1="0" x2="0" y2="1"><stop offset="0" stop-color="#8ff58f"/><stop offset="1" stop-color="#10c010"/></linearGradient><linearGradient id="gg" x1="0" y1="0" x2="1" y2="1"><stop offset="0" stop-color="#fff3a0"/><stop offset="0.5" stop-color="#e8c020"/><stop offset="1" stop-color="#b88a10"/></linearGradient></defs>
<path d="M20.5,12.5 h3.5 v3.5 h3.5 v3.5 h-3.5 v4 h-3.5 v-4 h-4 v-3.5 h4 z" fill="url(#gp)" stroke="#0a8a0a" stroke-width="1" stroke-linejoin="miter"/>
<g transform="translate(31,7)" fill="none" stroke="#000" stroke-width="1.0"><path d="M2.5,0 v1.5 M0,2 h5 M1,3 l0.8,2 M4,3 l-0.8,2 M0,5.5 h5.5 M0.5,8 h5 M2.8,5.5 v6 M2.5,8 l-2.5,3 M3,8 l2,2 M10,0.5 l-3,1.5 v9 M7,5 h4 M9.5,5 v6.5"/></g>
<g transform="translate(43,7)" fill="none" stroke="#000" stroke-width="1.0"><path d="M0.5,0.5 l1.5,1.5 M0,4 h2 v6 l1.5,-1.5 M4.5,1 h6.5 M8,1 v10 l-2,-1"/></g>
<g transform="translate(55,7)" fill="none" stroke="#000" stroke-width="1.0"><path d="M2,0 l1,1.5 M9,0 l-1,1.5 M1.5,2.5 h8 v5 h-8 z M1.5,5 h8 M5.5,2.5 v9 M0,9.5 h11"/></g>
<path d="M79.5,16 L85,7.5 q1,-0.5 2,0 L94.5,14 L88,21.5 Z" fill="url(#gg)" stroke="#9a6410" stroke-width="0.9"/>
<path d="M80,16.5 L88,22 L94.5,15 L95,16 L88.5,22.5 L79.5,17.5 Z" fill="#a86e14"/>
<path d="M109,8 l2.5,-2 h8 v11 h-10.5 z" fill="#1e90f0" stroke="#1a6ac0" stroke-width="0.8"/>
<path d="M109,8 l2.5,-2 v11 l-2.5,0 z" fill="#50b8ff"/><path d="M109,8 l2.5,-2 h8 l-2,1.5 h-8.5 z" fill="#7ac8ff"/>
<rect x="113" y="10" width="5" height="1" fill="#d0e8ff"/><rect x="114" y="12" width="4" height="1" fill="#d0e8ff"/>
<path d="M108.5,21.5 q-2.5,-0.5 -1,-3 q0.5,-1.5 2.5,-1.5 q1,-2.5 4,-2 q2,-1.5 4,0.5 q1,1.5 1.5,2 q3,0 3,2.5 q0,1.5 -1.5,1.5 z" fill="#eef2f8" stroke="#7f90b0" stroke-width="0.9"/>
<g fill="none" stroke-width="1"><path d="M139,21 A7.8,7.8 0 1 1 147,21" stroke="#88a8dc"/><path d="M140,18.5 A5.2,5.2 0 1 1 147.5,17" stroke="#5f8ad4"/><path d="M141.2,16 A2.6,2.6 0 1 1 145.6,14.5" stroke="#7f9fd8"/></g>
<path d="M147.5,7.5 A7.8,7.8 0 0 1 144,21.8" stroke="#9ac89a" fill="none" stroke-width="1.6"/><path d="M143.5,14 v8" stroke="#20a020" stroke-width="1.4"/><circle cx="143.2" cy="14" r="1.8" fill="#2a5ad0"/>
<path d="M164,13 L176,13 L174,20 L168,22 Z" fill="#f0d040" stroke="#b09020" stroke-width="0.8"/>
<ellipse cx="170" cy="11" rx="8" ry="2.5" fill="#4a9ad8"/><ellipse cx="170" cy="9" rx="4.5" ry="3" fill="#6ab4ea"/>
<circle cx="174.5" cy="18" r="4.2" fill="#e02020"/><rect x="173" y="16.5" width="3" height="3" fill="#fff"/>
<g transform="translate(184,7)" fill="none" stroke="#000" stroke-width="1.0"><path d="M5,0 l-1,1.5 M1.5,2 h8 v9.5 h-8 z M1.5,5 h8 M1.5,8 h8"/></g>
<g transform="translate(196,7)" fill="none" stroke="#000" stroke-width="1.0"><path d="M0,1 h4.5 M0,4 h5 M2,4 l-1.5,5 l4,-1 M4,7 l0.8,2 M6,3.5 h4.5 v6 q0,1.5 -1.5,1 M8,0.5 v3 q0,5 -2.5,7.5"/></g>
<g transform="translate(208,7)" fill="none" stroke="#000" stroke-width="1.0"><path d="M5.5,0 v1.5 M0,2 h11 M3,3.5 l-2,2.5 M8,3.5 l2,2.5 M3,6 l6,5.5 M8,6 l-7,5.5"/></g>
<g transform="translate(220,7)" fill="none" stroke="#000" stroke-width="1.0"><path d="M2,0.5 h7 v4 h-7 z M2,2.5 h7 M3,6 h7 l-1,5 l-1,-0.5 M4.5,6 l-3,4 M6.5,7 l-2.5,3.5 M8.5,7 l-2,3.5 M3,5 l-2,2"/></g>
<rect x="238" y="1" width="1" height="24" fill="#808080" shape-rendering="crispEdges"/>
<rect x="242" y="4" width="3" height="1" fill="#a8a8a8" shape-rendering="crispEdges"/>
<rect x="242" y="6" width="3" height="1" fill="#a8a8a8" shape-rendering="crispEdges"/>
<rect x="242" y="8" width="3" height="1" fill="#a8a8a8" shape-rendering="crispEdges"/>
<rect x="242" y="10" width="3" height="1" fill="#a8a8a8" shape-rendering="crispEdges"/>
<rect x="242" y="12" width="3" height="1" fill="#a8a8a8" shape-rendering="crispEdges"/>
<rect x="242" y="14" width="3" height="1" fill="#a8a8a8" shape-rendering="crispEdges"/>
<rect x="242" y="16" width="3" height="1" fill="#a8a8a8" shape-rendering="crispEdges"/>
<rect x="242" y="18" width="3" height="1" fill="#a8a8a8" shape-rendering="crispEdges"/>
<rect x="242" y="20" width="3" height="1" fill="#a8a8a8" shape-rendering="crispEdges"/>
<rect x="242" y="22" width="3" height="1" fill="#a8a8a8" shape-rendering="crispEdges"/>
<path d="M256.5,8 v14 M254,20 h14" stroke="#555" stroke-width="1.2" fill="none"/>
<path d="M254.5,10 l2,-2 l2,2 M266,18 l2,2 l-2,2" stroke="#555" stroke-width="1.2" fill="none"/>
<path d="M259.5,17 h2 v-8 h2" stroke="#1a9a1a" stroke-width="1.5" fill="none"/>
<rect x="276" y="2" width="25" height="22" fill="#f7f7f7" shape-rendering="crispEdges"/>
<rect x="276" y="2" width="25" height="1" fill="#999" shape-rendering="crispEdges"/>
<rect x="276" y="2" width="1" height="22" fill="#999" shape-rendering="crispEdges"/>
<rect x="301" y="2" width="1" height="23" fill="#fff" shape-rendering="crispEdges"/>
<rect x="276" y="24" width="25" height="1" fill="#fff" shape-rendering="crispEdges"/>
<path d="M284.5,8 v14 M282,20 h14" stroke="#555" stroke-width="1.2" fill="none"/>
<path d="M282.5,10 l2,-2 l2,2 M294,18 l2,2 l-2,2" stroke="#555" stroke-width="1.2" fill="none"/>
<path d="M290.5,6 v12" stroke="#0a8a0a" stroke-width="1.2"/><rect x="288.5" y="8.5" width="4" height="7" fill="#40e040" stroke="#0a8a0a" stroke-width="1"/>
<path d="M312.5,8 v14 M310,20 h14" stroke="#555" stroke-width="1.2" fill="none"/>
<path d="M310.5,10 l2,-2 l2,2 M322,18 l2,2 l-2,2" stroke="#555" stroke-width="1.2" fill="none"/>
<path d="M311,16.5 q3,-5.5 6,-5.5 q3,0 5,4" stroke="#30a030" stroke-width="1.2" fill="none"/>
<rect x="333" y="3" width="1" height="20" fill="#a0a0a0" shape-rendering="crispEdges"/>
<path d="M351,15 l5.5,5.5" stroke="#c8a020" stroke-width="2.6" stroke-linecap="round"/>
<circle cx="348" cy="12" r="5.5" fill="#d8ecfa" stroke="#2a70c8" stroke-width="1.3"/>
<path d="M345,12 h6" stroke="#2a70c8" stroke-width="1.8"/>
<path d="M348,9 v6" stroke="#2a70c8" stroke-width="1.8"/>
<path d="M379,15 l5.5,5.5" stroke="#c8a020" stroke-width="2.6" stroke-linecap="round"/>
<circle cx="376" cy="12" r="5.5" fill="#d8ecfa" stroke="#2a70c8" stroke-width="1.3"/>
<path d="M373,12 h6" stroke="#2a70c8" stroke-width="1.8"/>
<rect x="398.5" y="6.5" width="7.5" height="7.5" fill="#30a030"/>
<rect x="400" y="9.5" width="4.5" height="3" fill="#e8f0f8"/>
<rect x="406.5" y="6.5" width="7.5" height="7.5" fill="#2a60d0"/>
<rect x="408" y="9.5" width="4.5" height="3" fill="#e8f0f8"/>
<rect x="398.5" y="14.5" width="7.5" height="7.5" fill="#2a60d0"/>
<rect x="400" y="17.5" width="4.5" height="3" fill="#e8f0f8"/>
<rect x="406.5" y="14.5" width="7.5" height="7.5" fill="#30a030"/>
<rect x="408" y="17.5" width="4.5" height="3" fill="#e8f0f8"/>
<rect x="423" y="3" width="1" height="20" fill="#a0a0a0" shape-rendering="crispEdges"/>
<rect x="428" y="2" width="25" height="22" fill="#f7f7f7" shape-rendering="crispEdges"/>
<rect x="428" y="2" width="25" height="1" fill="#999" shape-rendering="crispEdges"/>
<rect x="428" y="2" width="1" height="22" fill="#999" shape-rendering="crispEdges"/>
<rect x="453" y="2" width="1" height="23" fill="#fff" shape-rendering="crispEdges"/>
<rect x="428" y="24" width="25" height="1" fill="#fff" shape-rendering="crispEdges"/>
<path d="M436.5,8 v14 M434,20 h14" stroke="#555" stroke-width="1.2" fill="none"/>
<path d="M434.5,10 l2,-2 l2,2 M446,18 l2,2 l-2,2" stroke="#555" stroke-width="1.2" fill="none"/>
<path d="M441,10 v6 l4,-3 z" fill="none" stroke="#20b020" stroke-width="1.3"/>
<rect x="456" y="2" width="25" height="22" fill="#f7f7f7" shape-rendering="crispEdges"/>
<rect x="456" y="2" width="25" height="1" fill="#999" shape-rendering="crispEdges"/>
<rect x="456" y="2" width="1" height="22" fill="#999" shape-rendering="crispEdges"/>
<rect x="481" y="2" width="1" height="23" fill="#fff" shape-rendering="crispEdges"/>
<rect x="456" y="24" width="25" height="1" fill="#fff" shape-rendering="crispEdges"/>
<path d="M463.5,8 v14 M461,20 h14" stroke="#555" stroke-width="1.2" fill="none"/>
<path d="M461.5,10 l2,-2 l2,2 M473,18 l2,2 l-2,2" stroke="#555" stroke-width="1.2" fill="none"/>
<path d="M470.5,8 v11" stroke="#2060c0" stroke-width="1.3"/><path d="M476,13 h-4 M474,11 l-2,2 l2,2" stroke="#e05010" stroke-width="1.3" fill="none"/>
<rect x="485" y="3" width="1" height="20" fill="#a0a0a0" shape-rendering="crispEdges"/>
<path d="M495.5,6.5 h7 l3,3 v10 h-10 z" fill="#fafafa" stroke="#777" stroke-width="1"/>
<path d="M497,10 q1,-1 2,0 v6 q0,1 -1,1" stroke="#444" stroke-width="0.8" fill="none"/>
<path d="M502.5,12.5 h3.5 v3.5 h3.5 v3.5 h-3.5 v4 h-3.5 v-4 h-4 v-3.5 h4 z" fill="url(#gp)" stroke="#0a8a0a" stroke-width="1" stroke-linejoin="miter"/>
<polygon points="516.5,13 522.5,13 519.5,16" fill="#000"/>
<circle cx="541" cy="14" r="7.5" fill="#2a80e0" stroke="#0c4aa0" stroke-width="1"/><circle cx="541" cy="14" r="5.2" fill="#f4f8ff" stroke="#7ab0f0" stroke-width="0.6"/>
<path d="M540.5,10.5 v3.5 h3" stroke="#333" stroke-width="1" fill="none"/>
<polygon points="555.5,13 561.5,13 558.5,16" fill="#000"/>
<rect x="572.5" y="7.5" width="15" height="13" fill="#f8fbff" stroke="#3a70c8" stroke-width="1"/>
<rect x="573" y="8" width="14" height="2" fill="#4a88d8"/><rect x="573" y="14" width="14" height="1" fill="#6a98d8"/>
<path d="M574,13 l3,-1 l3,0.5 l3,-1.5 l3,0" stroke="#c03010" stroke-width="1" fill="none"/>
<path d="M574,19 l3,-1.5 l3,1 l3,-2 l3,1" stroke="#20a020" stroke-width="1" fill="none"/>
<polygon points="594.5,13 600.5,13 597.5,16" fill="#000"/>
<rect x="606" y="1" width="1" height="24" fill="#808080" shape-rendering="crispEdges"/>
<rect x="610" y="4" width="3" height="1" fill="#a8a8a8" shape-rendering="crispEdges"/>
<rect x="610" y="6" width="3" height="1" fill="#a8a8a8" shape-rendering="crispEdges"/>
<rect x="610" y="8" width="3" height="1" fill="#a8a8a8" shape-rendering="crispEdges"/>
<rect x="610" y="10" width="3" height="1" fill="#a8a8a8" shape-rendering="crispEdges"/>
<rect x="610" y="12" width="3" height="1" fill="#a8a8a8" shape-rendering="crispEdges"/>
<rect x="610" y="14" width="3" height="1" fill="#a8a8a8" shape-rendering="crispEdges"/>
<rect x="610" y="16" width="3" height="1" fill="#a8a8a8" shape-rendering="crispEdges"/>
<rect x="610" y="18" width="3" height="1" fill="#a8a8a8" shape-rendering="crispEdges"/>
<rect x="610" y="20" width="3" height="1" fill="#a8a8a8" shape-rendering="crispEdges"/>
<rect x="610" y="22" width="3" height="1" fill="#a8a8a8" shape-rendering="crispEdges"/>
<rect x="616" y="2" width="25" height="22" fill="#f7f7f7" shape-rendering="crispEdges"/>
<rect x="616" y="2" width="25" height="1" fill="#999" shape-rendering="crispEdges"/>
<rect x="616" y="2" width="1" height="22" fill="#999" shape-rendering="crispEdges"/>
<rect x="641" y="2" width="1" height="23" fill="#fff" shape-rendering="crispEdges"/>
<rect x="616" y="24" width="25" height="1" fill="#fff" shape-rendering="crispEdges"/>
<path d="M624,7 v12.5 l3,-3 l2.5,4.5 l1.5,-1 l-2.5,-4.5 h4 z" fill="#444"/>
<path d="M649,14.5 h15 M656.5,7 v15" stroke="#555" stroke-width="1.2"/>
<rect x="673" y="3" width="1" height="20" fill="#a0a0a0" shape-rendering="crispEdges"/>
<path d="M690.5,8 v13" stroke="#444" stroke-width="1.3"/>
<path d="M713,14.5 h12" stroke="#444" stroke-width="1.3"/>
<path d="M740.5,21 l13,-12" stroke="#444" stroke-width="1.2"/>
<path d="M767,17 l12,-10 M768,20 l12,-10 M770,12 l1.5,7 M774,10 l1.5,7 M778,7 l1.5,7" stroke="#444" stroke-width="1" fill="none"/>
<text x="777.5" y="22" font-family="Liberation Sans, sans-serif" font-size="6.5" font-weight="bold" fill="#333">E</text>
<path d="M796,7.5 h13" stroke="#555" stroke-width="1" stroke-dasharray="1,1" fill="none"/>
<path d="M796,11 h13" stroke="#555" stroke-width="1" stroke-dasharray="1,1" fill="none"/>
<path d="M796,14.5 h13" stroke="#555" stroke-width="1" stroke-dasharray="1,1" fill="none"/>
<path d="M796,18 h13" stroke="#555" stroke-width="1" stroke-dasharray="1,1" fill="none"/>
<text x="805.5" y="23" font-family="Liberation Sans, sans-serif" font-size="6.5" font-weight="bold" fill="#333">F</text>
<text x="826.5" y="18.5" font-family="Liberation Sans, sans-serif" font-size="11" fill="#555" stroke="#555" stroke-width="0.4">A</text>
<g shape-rendering="crispEdges" fill="#666"><rect x="852" y="8" width="1" height="1"/><rect x="852" y="20" width="1" height="1"/><rect x="854" y="8" width="1" height="1"/><rect x="854" y="20" width="1" height="1"/><rect x="856" y="8" width="1" height="1"/><rect x="856" y="20" width="1" height="1"/><rect x="858" y="8" width="1" height="1"/><rect x="858" y="20" width="1" height="1"/><rect x="860" y="8" width="1" height="1"/><rect x="860" y="20" width="1" height="1"/><rect x="862" y="8" width="1" height="1"/><rect x="862" y="20" width="1" height="1"/><rect x="864" y="8" width="1" height="1"/><rect x="864" y="20" width="1" height="1"/><rect x="852" y="8" width="1" height="1"/><rect x="864" y="8" width="1" height="1"/><rect x="852" y="10" width="1" height="1"/><rect x="864" y="10" width="1" height="1"/><rect x="852" y="12" width="1" height="1"/><rect x="864" y="12" width="1" height="1"/><rect x="852" y="14" width="1" height="1"/><rect x="864" y="14" width="1" height="1"/><rect x="852" y="16" width="1" height="1"/><rect x="864" y="16" width="1" height="1"/><rect x="852" y="18" width="1" height="1"/><rect x="864" y="18" width="1" height="1"/><rect x="852" y="20" width="1" height="1"/><rect x="864" y="20" width="1" height="1"/></g>
<rect x="851" y="7" width="2" height="2" fill="#444"/>
<text x="854.5" y="19" font-family="Liberation Sans, sans-serif" font-size="11" font-weight="bold" fill="#444">T</text>
<path d="M880,11 l3,-3 l3,3 l-3,3 z M888,17 l3,-3 l3,3 l-3,3 z" fill="#333"/><path d="M883,13 l2.5,3 l3.5,-4" stroke="#333" stroke-width="1.2" fill="none"/>
<polygon points="900.5,13 906.5,13 903.5,16" fill="#000"/>
<rect x="912" y="1" width="1" height="24" fill="#808080" shape-rendering="crispEdges"/>
<rect x="916" y="4" width="3" height="1" fill="#a8a8a8" shape-rendering="crispEdges"/>
<rect x="916" y="6" width="3" height="1" fill="#a8a8a8" shape-rendering="crispEdges"/>
<rect x="916" y="8" width="3" height="1" fill="#a8a8a8" shape-rendering="crispEdges"/>
<rect x="916" y="10" width="3" height="1" fill="#a8a8a8" shape-rendering="crispEdges"/>
<rect x="916" y="12" width="3" height="1" fill="#a8a8a8" shape-rendering="crispEdges"/>
<rect x="916" y="14" width="3" height="1" fill="#a8a8a8" shape-rendering="crispEdges"/>
<rect x="916" y="16" width="3" height="1" fill="#a8a8a8" shape-rendering="crispEdges"/>
<rect x="916" y="18" width="3" height="1" fill="#a8a8a8" shape-rendering="crispEdges"/>
<rect x="916" y="20" width="3" height="1" fill="#a8a8a8" shape-rendering="crispEdges"/>
<rect x="916" y="22" width="3" height="1" fill="#a8a8a8" shape-rendering="crispEdges"/>
<text transform="translate(927,18) scale(0.95,1)" font-family="Liberation Sans, sans-serif" text-rendering="geometricPrecision" font-size="10" fill="#444">M1</text>
<text transform="translate(955.5,18) scale(0.95,1)" font-family="Liberation Sans, sans-serif" text-rendering="geometricPrecision" font-size="10" fill="#444">M5</text>
<text transform="translate(981.5,18) scale(0.95,1)" font-family="Liberation Sans, sans-serif" text-rendering="geometricPrecision" font-size="10" fill="#444">M15</text>
<text transform="translate(1009.5,18) scale(0.95,1)" font-family="Liberation Sans, sans-serif" text-rendering="geometricPrecision" font-size="10" fill="#444">M30</text>
<text transform="translate(1040,18) scale(0.95,1)" font-family="Liberation Sans, sans-serif" text-rendering="geometricPrecision" font-size="10" fill="#444">H1</text>
<rect x="1062" y="2" width="25" height="22" fill="#f7f7f7" shape-rendering="crispEdges"/>
<rect x="1062" y="2" width="25" height="1" fill="#999" shape-rendering="crispEdges"/>
<rect x="1062" y="2" width="1" height="22" fill="#999" shape-rendering="crispEdges"/>
<rect x="1087" y="2" width="1" height="23" fill="#fff" shape-rendering="crispEdges"/>
<rect x="1062" y="24" width="25" height="1" fill="#fff" shape-rendering="crispEdges"/>
<text transform="translate(1067.5,18) scale(0.95,1)" font-family="Liberation Sans, sans-serif" text-rendering="geometricPrecision" font-size="10" fill="#444">H4</text>
<text transform="translate(1096.5,18) scale(0.95,1)" font-family="Liberation Sans, sans-serif" text-rendering="geometricPrecision" font-size="10" fill="#444">D1</text>
<text transform="translate(1123.5,18) scale(0.95,1)" font-family="Liberation Sans, sans-serif" text-rendering="geometricPrecision" font-size="10" fill="#444">W1</text>
<text transform="translate(1150.5,18) scale(0.95,1)" font-family="Liberation Sans, sans-serif" text-rendering="geometricPrecision" font-size="10" fill="#444">MN</text>
<rect x="1173" y="1" width="1" height="24" fill="#808080" shape-rendering="crispEdges"/>
<circle cx="1643.5" cy="11.4" r="3.9" fill="none" stroke="#2a5fd0" stroke-width="1.4"/><path d="M1641,14 l-4.5,4.5" stroke="#2a5fd0" stroke-width="2.2" stroke-linecap="round"/>
<path d="M1662,19 q-3,-6 4,-8 h4 q6,2 3,8 h-8 l-2,3 z" fill="#e4e6ee" stroke="#a0a0a0" stroke-width="1"/>
<circle cx="1674.5" cy="11.4" r="8.3" fill="#e03a1e"/>
<text x="1674.5" y="16" font-family="Liberation Sans, sans-serif" font-size="12" font-weight="bold" fill="#fff" text-anchor="middle">1</text>
</g>
</svg>
</body></html>
